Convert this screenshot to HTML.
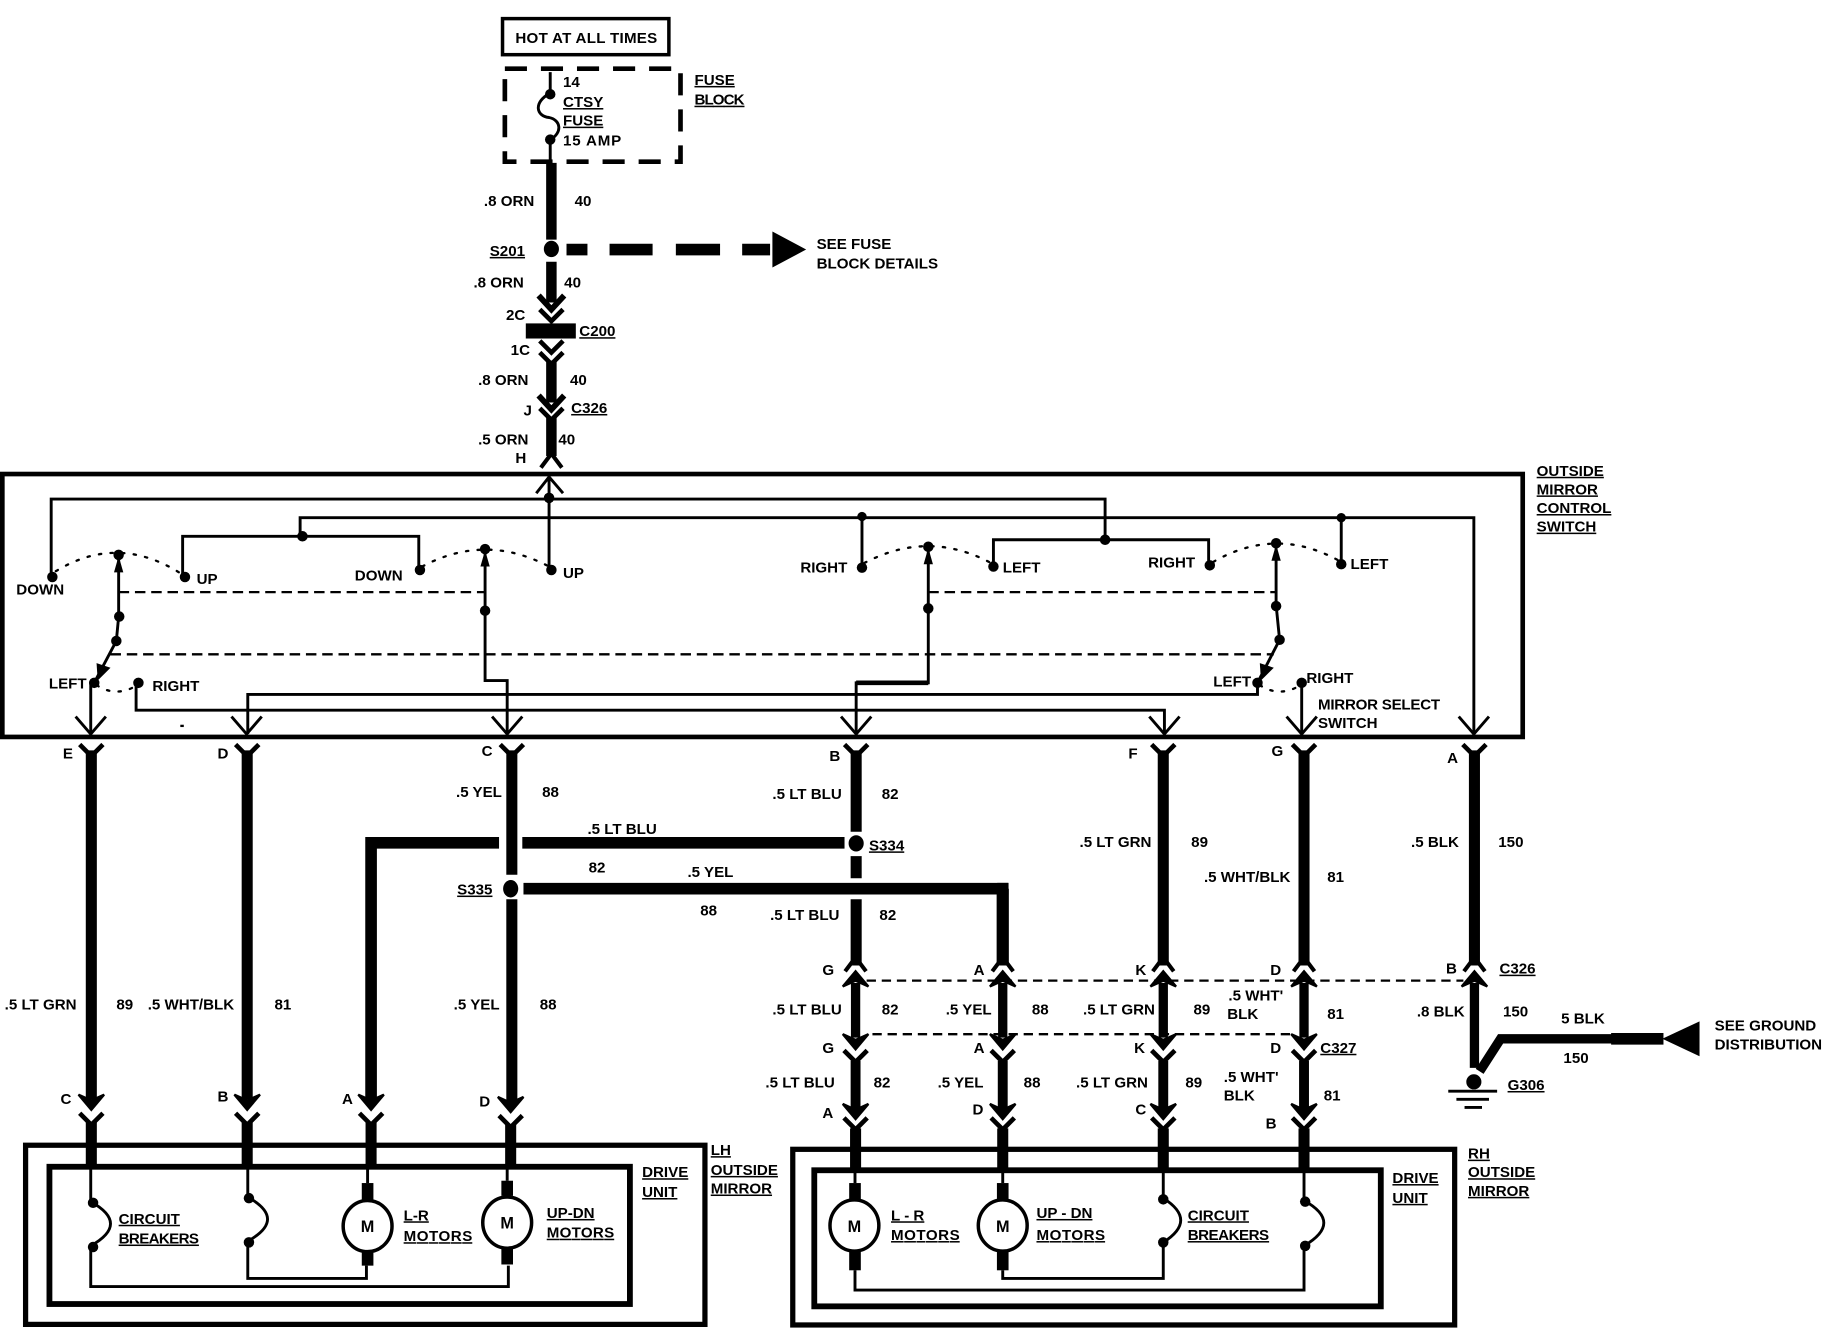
<!DOCTYPE html>
<html><head><meta charset="utf-8"><style>
html,body{margin:0;padding:0;background:#fff;width:1824px;height:1328px;overflow:hidden}
svg{display:block}
text{font-family:"Liberation Sans",sans-serif;font-weight:bold;font-size:13px;fill:#000}
.u{text-decoration:underline}
.m{text-anchor:middle;font-size:14px}
</style></head><body>
<svg width="1824" height="1328" viewBox="0 0 1568 1141.6" xmlns="http://www.w3.org/2000/svg">
<defs>
<path id="a" d="M-11 -12L0 0L11 -12" fill="none" stroke="#000" stroke-width="5"/>
<path id="v" d="M-10 -10L0 0L10 -10" fill="none" stroke="#000" stroke-width="4"/>
<path id="t" d="M-13 -15L0 0L13 -15" fill="none" stroke="#000" stroke-width="2.5"/>
<path id="i" d="M-9 12L0 0L9 12" fill="none" stroke="#000" stroke-width="3.5"/>
<path id="up" d="M-11 13L0 0L11 13L0 8Z" fill="#000" stroke="#000" stroke-width="2"/>
<path id="dn" d="M-11 -13L0 0L11 -13L0 -8Z" fill="#000" stroke="#000" stroke-width="2"/>
<path id="sa" d="M-4 14L0 0L4 14Z" fill="#000"/>
</defs>
<rect width="1568" height="1142" fill="#fff"/>

<!-- top -->
<rect x="432" y="16" width="143" height="31" fill="none" stroke="#000" stroke-width="3"/>
<rect x="434" y="59" width="151" height="80" fill="none" stroke="#000" stroke-width="4" stroke-dasharray="19 12"/>
<path d="M473 62V80M473 120V140" stroke="#000" stroke-width="2.5" fill="none"/>
<path d="M473 80C458 88 461 100 472 101C482 103 484 114 473 120" stroke="#000" stroke-width="2.5" fill="none"/>
<circle cx="473" cy="81" r="4.5"/><circle cx="473" cy="120" r="4.5"/>
<path d="M474 140V206M474 225V260M474 310V346M474 358V392" stroke="#000" stroke-width="9" fill="none"/>
<ellipse cx="474" cy="214" rx="6.5" ry="7"/>
<path d="M487 214.500H505M524 214.500H561M581 214.500H619M638 214.500H662" stroke="#000" stroke-width="10" fill="none"/>
<path d="M664 199L693 214.500L664 230Z"/>
<rect x="452" y="278" width="43" height="13"/>
<use href="#a" x="474" y="266"/><use href="#v" x="474" y="276"/><use href="#v" x="474" y="303"/><use href="#v" x="474" y="313"/>
<use href="#a" x="474" y="352"/><use href="#v" x="474" y="361"/><use href="#i" x="474" y="390"/>

<!-- switch box -->
<rect x="2" y="407.500" width="1307" height="226" fill="none" stroke="#000" stroke-width="4"/>
<path d="M461 424L472 410L484 424M472 410V490M44 496V429H950V464M854 487V464H1039V486M258 461V445H1267V631M741 488V444M1153 485V445M157 496V461H360V490M102 476V530L100 551L81 587M78 587V631M417 472V585H436V631M798 472V587H736V631M1097 468V520L1100 550L1081 587V597H213V631M1119 587V631M117 587V610.500H1001V631"
 fill="none" stroke="#000" stroke-width="2.500"/>
<path d="M798 587H736" stroke="#000" stroke-width="4"/>
<path d="M48 491Q102 458 157 494M363 487Q417 458 472 487M743 484Q798 455 852 484M1043 483Q1097 452 1151 482M83 589Q100 600 118 589M1083 589Q1100 600 1118 589" fill="none" stroke="#000" stroke-width="2" stroke-dasharray="2 8" stroke-linecap="round"/>
<path d="M102 509H417M798 509H1097" stroke="#000" stroke-width="2" stroke-dasharray="9 5"/>
<path d="M95 562.500H1095" stroke="#000" stroke-width="2" stroke-dasharray="9 5"/>
<rect x="155" y="623" width="3" height="2"/>
<g>
<circle cx="472" cy="428" r="4.5"/><circle cx="45" cy="496" r="4.500"/><circle cx="159" cy="496" r="4.500"/><circle cx="361" cy="490" r="4.500"/><circle cx="474" cy="490" r="4.500"/>
<circle cx="260" cy="461" r="4.500"/><circle cx="102" cy="477" r="4.500"/><circle cx="417" cy="472" r="4.500"/>
<circle cx="102.500" cy="530" r="4.500"/><circle cx="100" cy="551" r="4.500"/><circle cx="417" cy="525" r="4.500"/>
<circle cx="81" cy="587" r="4.500"/><circle cx="119" cy="587" r="4.500"/>
<circle cx="741" cy="444" r="4"/><circle cx="741" cy="488" r="4.500"/><circle cx="854" cy="487" r="4.500"/><circle cx="950" cy="464" r="4.500"/><circle cx="1040" cy="486" r="4.500"/><circle cx="1153" cy="445" r="4"/><circle cx="1153" cy="485" r="4.500"/>
<circle cx="798" cy="470" r="4.500"/><circle cx="798" cy="523" r="4.500"/><circle cx="1097" cy="467" r="4.500"/><circle cx="1097" cy="521" r="4.500"/><circle cx="1100" cy="550" r="4.500"/><circle cx="1081" cy="587" r="4.500"/><circle cx="1119" cy="587" r="4.500"/>
</g>
<use href="#sa" x="102" y="478"/><use href="#sa" x="417" y="473"/><use href="#sa" x="798" y="471"/><use href="#sa" x="1097" y="468"/>
<path d="M84 585L83 570L95 574Z"/><path d="M1084 585L1083 570L1095 574Z"/>
<g><use href="#t" x="78" y="631"/><use href="#t" x="212" y="631"/><use href="#t" x="436" y="631"/><use href="#t" x="736" y="631"/><use href="#t" x="1001" y="631"/><use href="#t" x="1119" y="631"/><use href="#t" x="1267" y="631"/></g>

<!-- main wires -->
<path d="M78.500 645V945M212.500 645V945M440 645V752M440 773V947M736 645V715M736 736V755M736 773V830M862 759V830M1000 645V830M1121 645V830M1267.500 645V830" stroke="#000" stroke-width="9.500" fill="none"/>
<path d="M319 947V724.500H429M449 724.500H726M450 764H862V759" stroke="#000" stroke-width="10" fill="none"/>
<path d="M862 764V830" stroke="#000" stroke-width="10.500"/>
<ellipse cx="736" cy="725" rx="6.500" ry="7"/><ellipse cx="439" cy="764" rx="6.500" ry="7.500"/>
<g><use href="#v" x="78.500" y="650"/><use href="#v" x="212.500" y="650"/><use href="#v" x="440" y="650"/><use href="#v" x="736" y="650"/><use href="#v" x="1000" y="650"/><use href="#v" x="1121" y="650"/><use href="#v" x="1267.500" y="650"/></g>
<!-- connector rows -->
<path d="M745 843H1258M750 889H1109" stroke="#000" stroke-width="2" stroke-dasharray="8 5"/>
<g><use href="#i" x="735.500" y="823"/><use href="#i" x="862" y="823"/><use href="#i" x="1000" y="823"/><use href="#i" x="1121" y="823"/><use href="#i" x="1267.500" y="823"/></g>
<g><use href="#up" x="735.500" y="835"/><use href="#up" x="862" y="835"/><use href="#up" x="1000" y="835"/><use href="#up" x="1121" y="835"/><use href="#up" x="1267.500" y="835"/></g>
<path d="M735.500 845V892M862 845V892M1000 845V892M1121 845V892" stroke="#000" stroke-width="8" fill="none"/>
<g><use href="#dn" x="735.500" y="902"/><use href="#dn" x="862" y="902"/><use href="#dn" x="1000" y="902"/><use href="#dn" x="1121" y="902"/></g>
<g><use href="#v" x="735.500" y="913"/><use href="#v" x="862" y="913"/><use href="#v" x="1000" y="913"/><use href="#v" x="1121" y="913"/></g>
<path d="M735.500 912V955M862 912V955M1000 912V955M1121 912V955" stroke="#000" stroke-width="8.500" fill="none"/>
<g><use href="#dn" x="735.500" y="962"/><use href="#dn" x="862" y="962"/><use href="#dn" x="1000" y="962"/><use href="#dn" x="1121" y="962"/></g>
<g><use href="#v" x="735.500" y="971"/><use href="#v" x="862" y="971"/><use href="#v" x="1000" y="971"/><use href="#v" x="1121" y="971"/></g>
<path d="M735.500 970V1006M862 970V1006M1000 970V1006M1121 970V1006" stroke="#000" stroke-width="9.500" fill="none"/>
<!-- ground -->
<path d="M1267.500 845V918" stroke="#000" stroke-width="8" fill="none"/>
<path d="M1272 921L1290 893H1400" stroke="#000" stroke-width="8" fill="none"/>
<path d="M1385 893H1430" stroke="#000" stroke-width="10"/>
<path d="M1429 893L1461 878V908Z"/>
<circle cx="1267" cy="930" r="6.500"/>
<path d="M1245 938H1287M1252 945H1280M1259 952H1274" stroke="#000" stroke-width="2.500"/>

<!-- LH mirror -->
<rect x="22" y="984.500" width="584" height="154" fill="none" stroke="#000" stroke-width="4.500"/>
<rect x="42.500" y="1003" width="499" height="118" fill="none" stroke="#000" stroke-width="5"/>
<g><use href="#dn" x="78.500" y="954"/><use href="#dn" x="212.500" y="954"/><use href="#dn" x="319" y="954"/><use href="#dn" x="439" y="956"/></g>
<g><use href="#v" x="78.500" y="967"/><use href="#v" x="212.500" y="967"/><use href="#v" x="319" y="967"/><use href="#v" x="439" y="969"/></g>
<path d="M78.500 965V1003M212.500 965V1003M319 965V1003M439 967V1003" stroke="#000" stroke-width="9.500" fill="none"/>
<path d="M78 1003V1033M78 1071V1106H437V1088M213 1003V1029M213 1067V1099H315V1088M316 1003V1017M436 1003V1015" stroke="#000" stroke-width="2.500" fill="none"/>
<path d="M78 1033Q112 1052 78 1071M213 1029Q247 1048 213 1067" stroke="#000" stroke-width="2.500" fill="none"/>
<circle cx="80" cy="1034" r="4.500"/><circle cx="80" cy="1072" r="4.500"/><circle cx="214" cy="1030" r="4.500"/><circle cx="214" cy="1068" r="4.500"/>
<rect x="311" y="1017" width="10" height="15"/><rect x="311" y="1075" width="10" height="13"/>
<rect x="431" y="1015" width="10" height="13"/><rect x="431" y="1073" width="10" height="14"/>
<ellipse cx="316" cy="1054" rx="21" ry="22" fill="#fff" stroke="#000" stroke-width="3"/>
<ellipse cx="436" cy="1051" rx="21" ry="22" fill="#fff" stroke="#000" stroke-width="3"/>

<!-- RH mirror -->
<rect x="681.500" y="988" width="569" height="151" fill="none" stroke="#000" stroke-width="4.500"/>
<rect x="700" y="1006" width="487" height="117" fill="none" stroke="#000" stroke-width="5"/>
<path d="M1000 1006V1030M1000 1068V1099H862V1092M1121 1006V1032M1121 1071V1109H735V1092M735 1006V1017M862 1006V1017" stroke="#000" stroke-width="2.500" fill="none"/>
<path d="M1000 1030Q1030 1049 1000 1068M1121 1032Q1155 1051 1121 1071" stroke="#000" stroke-width="2.500" fill="none"/>
<circle cx="1000" cy="1031" r="4.500"/><circle cx="1000" cy="1068" r="4.500"/><circle cx="1122" cy="1033" r="4.500"/><circle cx="1122" cy="1071" r="4.500"/>
<rect x="730" y="1017" width="10" height="15"/><rect x="730" y="1075" width="10" height="17"/>
<rect x="857" y="1017" width="10" height="15"/><rect x="857" y="1075" width="10" height="17"/>
<ellipse cx="734.500" cy="1053.500" rx="21" ry="22" fill="#fff" stroke="#000" stroke-width="3"/>
<ellipse cx="862" cy="1053.500" rx="21" ry="22" fill="#fff" stroke="#000" stroke-width="3"/>

<!-- text -->
<text x="443" y="37" textLength="122">HOT AT ALL TIMES</text>
<text x="484" y="75">14</text><text x="484" y="92" class="u">CTSY</text><text x="484" y="108" class="u">FUSE</text><text x="484" y="125" textLength="50">15 AMP</text>
<text x="597" y="73" class="u">FUSE</text><text x="597" y="90" class="u" textLength="43">BLOCK</text>
<text x="416" y="177">.8 ORN</text><text x="494" y="177">40</text>
<text x="421" y="220" class="u">S201</text><text x="702" y="214">SEE FUSE</text><text x="702" y="231">BLOCK DETAILS</text>
<text x="407" y="247">.8 ORN</text><text x="485" y="247">40</text>
<text x="435" y="275">2C</text><text x="498" y="289" class="u">C200</text><text x="439" y="305">1C</text>
<text x="411" y="331">.8 ORN</text><text x="490" y="331">40</text>
<text x="450" y="357">J</text><text x="491" y="355" class="u">C326</text>
<text x="411" y="382">.5 ORN</text><text x="480" y="382">40</text><text x="443" y="398">H</text>
<text x="1321" y="409" class="u">OUTSIDE</text><text x="1321" y="425" class="u">MIRROR</text><text x="1321" y="441" class="u">CONTROL</text><text x="1321" y="457" class="u">SWITCH</text>
<text x="14" y="511">DOWN</text><text x="169" y="502">UP</text><text x="305" y="499">DOWN</text><text x="484" y="497">UP</text>
<text x="688" y="492">RIGHT</text><text x="862" y="492">LEFT</text><text x="987" y="488">RIGHT</text><text x="1161" y="489">LEFT</text>
<text x="42" y="592">LEFT</text><text x="131" y="594">RIGHT</text><text x="1043" y="590">LEFT</text><text x="1123" y="587">RIGHT</text>
<text x="1133" y="610" textLength="105">MIRROR SELECT</text><text x="1133" y="626">SWITCH</text>
<text x="54" y="652">E</text><text x="187" y="652">D</text><text x="414" y="650">C</text><text x="713" y="654">B</text><text x="970" y="652">F</text><text x="1093" y="650">G</text><text x="1244" y="656">A</text>
<text x="392" y="685">.5 YEL</text><text x="466" y="685">88</text><text x="664" y="687">.5 LT BLU</text><text x="758" y="687">82</text>
<text x="505" y="717">.5 LT BLU</text><text x="506" y="750">82</text><text x="747" y="731" class="u">S334</text><text x="393" y="769" class="u">S335</text>
<text x="591" y="754">.5 YEL</text><text x="602" y="787">88</text><text x="662" y="791">.5 LT BLU</text><text x="756" y="791">82</text>
<text x="928" y="728">.5 LT GRN</text><text x="1024" y="728">89</text><text x="1035" y="758">.5 WHT/BLK</text><text x="1141" y="758">81</text><text x="1213" y="728">.5 BLK</text><text x="1288" y="728">150</text>
<text x="707" y="838">G</text><text x="837" y="838">A</text><text x="976" y="838">K</text><text x="1092" y="838">D</text><text x="1243" y="837">B</text><text x="1289" y="837" class="u">C326</text>
<text x="664" y="872">.5 LT BLU</text><text x="758" y="872">82</text><text x="813" y="872">.5 YEL</text><text x="887" y="872">88</text><text x="931" y="872">.5 LT GRN</text><text x="1026" y="872">89</text>
<text x="1056" y="860">.5 WHT'</text><text x="1055" y="876">BLK</text><text x="1141" y="876">81</text><text x="1218" y="874">.8 BLK</text><text x="1292" y="874">150</text><text x="1342" y="880">5 BLK</text><text x="1344" y="914">150</text>
<text x="707" y="905">G</text><text x="837" y="905">A</text><text x="975" y="905">K</text><text x="1092" y="905">D</text><text x="1135" y="905" class="u">C327</text>
<text x="658" y="935">.5 LT BLU</text><text x="751" y="935">82</text><text x="806" y="935">.5 YEL</text><text x="880" y="935">88</text><text x="925" y="935">.5 LT GRN</text><text x="1019" y="935">89</text>
<text x="1052" y="930">.5 WHT'</text><text x="1052" y="946">BLK</text><text x="1138" y="946">81</text>
<text x="707" y="961">A</text><text x="836" y="958">D</text><text x="976" y="958">C</text><text x="1088" y="970">B</text>
<text x="4" y="868">.5 LT GRN</text><text x="100" y="868">89</text><text x="127" y="868">.5 WHT/BLK</text><text x="236" y="868">81</text><text x="390" y="868">.5 YEL</text><text x="464" y="868">88</text>
<text x="52" y="949">C</text><text x="187" y="947">B</text><text x="294" y="949">A</text><text x="412" y="951">D</text>
<text x="1474" y="886">SEE GROUND</text><text x="1474" y="902">DISTRIBUTION</text><text x="1296" y="937" class="u">G306</text>
<text x="611" y="993" class="u">LH</text><text x="611" y="1010" class="u">OUTSIDE</text><text x="611" y="1026" class="u">MIRROR</text><text x="552" y="1012" class="u">DRIVE</text><text x="552" y="1029" class="u">UNIT</text>
<text x="102" y="1052" class="u">CIRCUIT</text><text x="102" y="1069" class="u" textLength="69">BREAKERS</text><text x="347" y="1049" class="u">L-R</text><text x="347" y="1067" class="u" textLength="59">MOTORS</text><text x="470" y="1047" class="u">UP-DN</text><text x="470" y="1064" class="u" textLength="58">MOTORS</text>
<text x="1262" y="996" class="u">RH</text><text x="1262" y="1012" class="u">OUTSIDE</text><text x="1262" y="1028" class="u">MIRROR</text><text x="1197" y="1017" class="u">DRIVE</text><text x="1197" y="1034" class="u">UNIT</text>
<text x="766" y="1049" class="u">L - R</text><text x="766" y="1066" class="u" textLength="59">MOTORS</text><text x="891" y="1047" class="u">UP - DN</text><text x="891" y="1066" class="u" textLength="59">MOTORS</text><text x="1021" y="1049" class="u">CIRCUIT</text><text x="1021" y="1066" class="u" textLength="70">BREAKERS</text>
<text x="316" y="1059" class="m">M</text><text x="436" y="1056" class="m">M</text><text x="734.500" y="1059" class="m">M</text><text x="862" y="1059" class="m">M</text>
</svg>
</body></html>
